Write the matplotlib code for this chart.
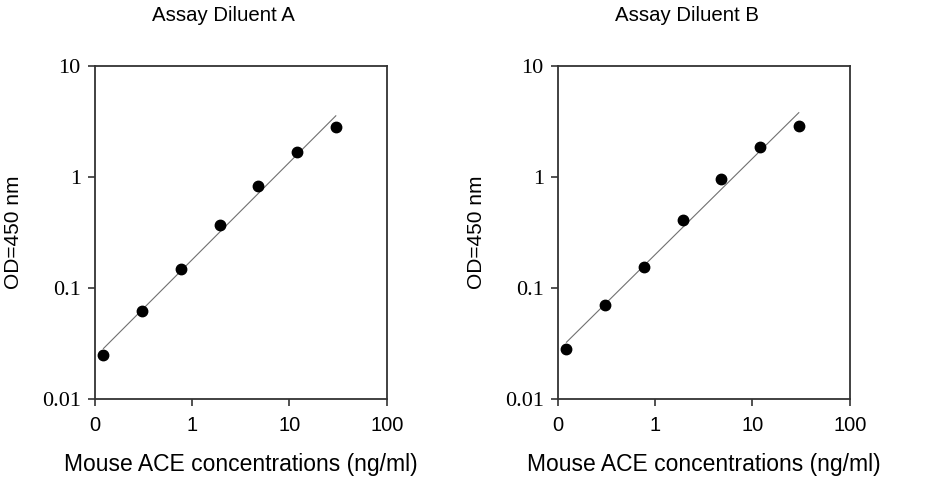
import numpy as np
import matplotlib
matplotlib.use("Agg")
import matplotlib.pyplot as plt
from matplotlib.ticker import FixedLocator, FixedFormatter, NullLocator

# concentrations (ng/ml)
conc = [0.123, 0.307, 0.768, 1.92, 4.8, 12.0, 30.0]
od_a = [0.0248, 0.0624, 0.147, 0.370, 0.83, 1.67, 2.84]
od_b = [0.0282, 0.0706, 0.156, 0.413, 0.96, 1.85, 2.88]

titles = ["Assay Diluent A", "Assay Diluent B"]
xlabel = "Mouse ACE concentrations (ng/ml)"
ylabel = "OD=450 nm"
xticks = [0.1, 1, 10, 100]
xticklabels = ["0", "1", "10", "100"]
yticks = [0.01, 0.1, 1, 10]
yticklabels = ["0.01", "0.1", "1", "10"]

sans = "Liberation Sans"
serif = "Liberation Serif"


def draw_panel(fig, left, yvals, title):
    W, H = 926, 480
    ax = fig.add_axes([left / W, (H - 399) / H, 292 / W, 333 / H])
    ax.set_xscale("log")
    ax.set_yscale("log")
    ax.set_xlim(0.1, 100)
    ax.set_ylim(0.01, 10)

    # power fit (straight line in log-log)
    lx = np.log10(conc)
    ly = np.log10(yvals)
    slope, icpt = np.polyfit(lx, ly, 1)
    fx = np.array([conc[0], conc[-1]])
    fy = 10 ** (icpt + slope * np.log10(fx))
    ax.plot(fx, fy, color="#707070", lw=0.8, zorder=2)
    ax.plot(conc, yvals, "o", color="black", ms=7.5, zorder=3)

    ax.xaxis.set_major_locator(FixedLocator(xticks))
    ax.xaxis.set_major_formatter(FixedFormatter(xticklabels))
    ax.yaxis.set_major_locator(FixedLocator(yticks))
    ax.yaxis.set_major_formatter(FixedFormatter(yticklabels))
    ax.xaxis.set_minor_locator(NullLocator())
    ax.yaxis.set_minor_locator(NullLocator())
    ax.tick_params(direction="out", length=5, width=1.2, color="#333333")
    ax.tick_params(axis="x", pad=7)
    ax.tick_params(axis="y", pad=5)
    for lab in ax.get_xticklabels():
        lab.set_fontfamily(sans)
        lab.set_fontsize(14.5)
    for lab in ax.get_yticklabels():
        lab.set_fontfamily(serif)
        lab.set_fontsize(16)
    for sp in ax.spines.values():
        sp.set_color("#333333")
        sp.set_linewidth(1.3)

    cx = (left + 146) / W
    fig.text(cx - 17 / W, 1 - 21 / H, title, ha="center", va="baseline",
             fontsize=14.7, family=sans)
    fig.text(cx, 1 - 471 / H, xlabel, ha="center", va="baseline",
             fontsize=16.5, family=sans)
    fig.text((left - 81) / W, 1 - 232 / H, ylabel, ha="center", va="center",
             rotation=90, fontsize=15, family=sans)
    return ax


fig = plt.figure(figsize=(9.26, 4.8), dpi=100)
draw_panel(fig, 94.7, od_a, titles[0])
draw_panel(fig, 557.7, od_b, titles[1])
fig.savefig("out.png", dpi=100, facecolor="white")
